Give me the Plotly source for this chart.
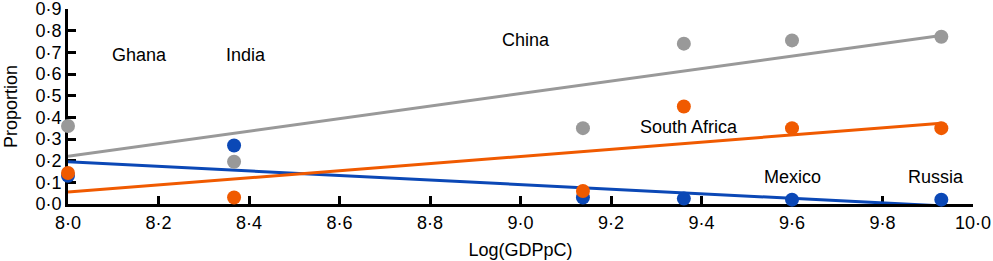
import numpy as np
import plotly.graph_objects as go

countries = ["Ghana", "India", "China", "South Africa", "Mexico", "Russia"]
log_gdppc = [8.00, 8.367, 9.138, 9.361, 9.60, 9.930]
grey_vals = [0.36, 0.195, 0.35, 0.74, 0.755, 0.772]
orange_vals = [0.143, 0.03, 0.06, 0.45, 0.35, 0.35]
blue_vals = [0.13, 0.27, 0.03, 0.025, 0.02, 0.02]

label_x = [8.157, 8.394, 9.013, 9.373, 9.60, 9.918]
label_y = [0.689, 0.689, 0.758, 0.354, 0.126, 0.126]

x_ticks = [8.0, 8.2, 8.4, 8.6, 8.8, 9.0, 9.2, 9.4, 9.6, 9.8, 10.0]
x_ticktext = ["8·0", "8·2", "8·4", "8·6", "8·8", "9·0", "9·2", "9·4", "9·6", "9·8", "10·0"]
y_ticks = [0.0, 0.1, 0.2, 0.3, 0.4, 0.5, 0.6, 0.7, 0.8, 0.9]
y_ticktext = ["0·0", "0·1", "0·2", "0·3", "0·4", "0·5", "0·6", "0·7", "0·8", "0·9"]

GREY = "#999999"
ORANGE = "#F05A00"
BLUE = "#0B48B6"
FONT = "Liberation Sans, Arial, sans-serif"

series = [(blue_vals, BLUE), (grey_vals, GREY), (orange_vals, ORANGE)]

fig = go.Figure()
xs = np.array(log_gdppc)
xfit = np.array([xs.min(), xs.max()])
for vals, col in series:
    slope, icpt = np.polyfit(xs, np.array(vals), 1)
    fig.add_trace(go.Scatter(x=xfit, y=slope * xfit + icpt, mode="lines",
                             line=dict(color=col, width=3), showlegend=False,
                             hoverinfo="skip"))
for vals, col in series:
    fig.add_trace(go.Scatter(x=log_gdppc, y=vals, mode="markers",
                             marker=dict(color=col, size=14, line=dict(width=0)),
                             cliponaxis=False, showlegend=False))

for name, lx, ly in zip(countries, label_x, label_y):
    fig.add_annotation(x=lx, y=ly, text=name, showarrow=False,
                       font=dict(family=FONT, size=18, color="black"))

axis_font = dict(family=FONT, size=18, color="black")
fig.update_xaxes(range=[8, 10], tickvals=x_ticks, ticktext=x_ticktext,
                 showline=True, linecolor="black", linewidth=3,
                 ticks="inside", ticklen=8, tickwidth=2.5, tickcolor="black",
                 showgrid=False, zeroline=False, tickfont=axis_font, automargin=False,
                 ticklabeloverflow="allow", layer="below traces",
                 title=dict(text="Log(GDPpC)", font=dict(family=FONT, size=18, color="black"), standoff=12))
fig.update_yaxes(range=[0, 0.9], tickvals=y_ticks, ticktext=y_ticktext,
                 showline=True, linecolor="black", linewidth=3,
                 ticks="inside", ticklen=8, tickwidth=2.5, tickcolor="black",
                 showgrid=False, zeroline=False, tickfont=axis_font, automargin=False,
                 ticklabeloverflow="allow", layer="below traces",
                 title=dict(text="Proportion", font=dict(family=FONT, size=18, color="black"), standoff=14))

fig.update_layout(width=993, height=261, margin=dict(l=68, r=20, t=9, b=57),
                  plot_bgcolor="white", paper_bgcolor="white")

fig.write_html("out.html", config={"displayModeBar": False},
               post_script="document.body.style.margin='0px';")
